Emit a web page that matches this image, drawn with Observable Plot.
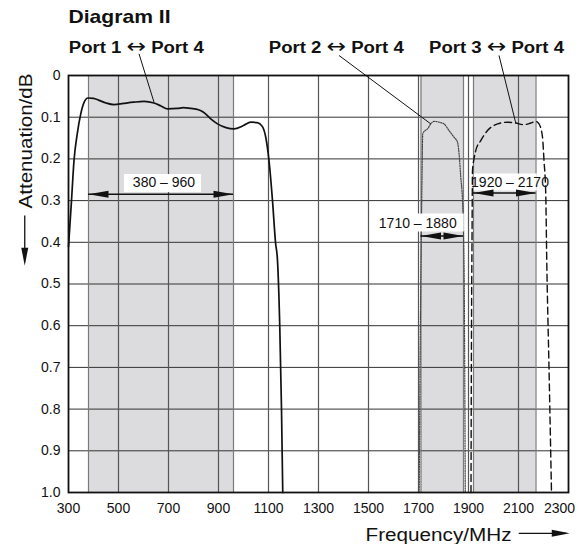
<!DOCTYPE html>
<html><head><meta charset="utf-8">
<script src="https://cdn.jsdelivr.net/npm/d3@7"></script>
<script src="https://cdn.jsdelivr.net/npm/@observablehq/plot@0.6"></script>
<style>html,body{margin:0;padding:0;background:#fff;}</style>
</head><body>
<script>
// ---------- data ----------
// Port 1 ↔ Port 4 (solid)
const port1Freq = [300, 312, 322, 335, 349, 362, 378, 400, 420, 450, 482, 520, 560, 602, 642, 670, 696, 736, 760, 789, 820, 840, 869, 896, 930, 962, 1000, 1029, 1055, 1075, 1089, 1102, 1116, 1128, 1136, 1145, 1152, 1157];
const port1Att  = [0.41, 0.30, 0.204, 0.14, 0.092, 0.065, 0.054, 0.055, 0.059, 0.066, 0.070, 0.067, 0.064, 0.062, 0.066, 0.073, 0.080, 0.079, 0.077, 0.079, 0.082, 0.088, 0.104, 0.116, 0.125, 0.128, 0.120, 0.112, 0.113, 0.122, 0.148, 0.204, 0.30, 0.40, 0.444, 0.60, 0.80, 1.0];
// Port 2 ↔ Port 4 (dotted)
const port2Freq = [1703, 1706, 1710, 1714, 1717, 1725, 1736, 1749, 1762, 1782, 1802, 1822, 1842, 1856, 1864, 1869, 1876, 1882, 1885, 1887];
const port2Att  = [1.0, 0.70, 0.45, 0.25, 0.14, 0.133, 0.128, 0.116, 0.110, 0.112, 0.116, 0.132, 0.148, 0.16, 0.20, 0.244, 0.30, 0.444, 0.70, 1.0];
// Port 3 ↔ Port 4 (dashed)
const port3Freq = [1910, 1912, 1914, 1916, 1922, 1929, 1949, 1976, 2016, 2056, 2089, 2122, 2149, 2169, 2182, 2196, 2202, 2209, 2213, 2222, 2232];
const port3Att  = [1.0, 0.60, 0.40, 0.228, 0.20, 0.18, 0.156, 0.132, 0.116, 0.112, 0.114, 0.118, 0.114, 0.110, 0.116, 0.148, 0.204, 0.284, 0.444, 0.70, 1.0];

const xTicks = [300, 500, 700, 900, 1100, 1300, 1500, 1700, 1900, 2100, 2300];
const yTicks = [0, 0.1, 0.2, 0.3, 0.4, 0.5, 0.6, 0.7, 0.8, 0.9, 1.0];

// pass bands
const bandLo = [380, 1710, 1920];
const bandHi = [960, 1880, 2170];
const bandLabels = ["380 – 960", "1710 – 1880", "1920 – 2170"];

const title = "Diagram II";
const portLabels = ["Port 1 ↔ Port 4", "Port 2 ↔ Port 4", "Port 3 ↔ Port 4"];
const xLabel = "Frequency/MHz";
const yLabel = "Attenuation/dB";

// ---------- annotation anchors (data units) ----------
const bandArrowAtt = [0.285, 0.385, 0.282];
const bandLabelFreq = [682, 1697, 2066];
const bandLabelAtt = [0.257, 0.354, 0.256];
const bandBoxFreq = [676, 1709, 2047];
const bandBoxAtt = [0.258, 0.3525, 0.2555];
const bandBoxW = [77, 86, 63];
const bandBoxH = [18, 18, 17];
const portLabelFreq = [301, 1101, 1742];
const leaderFrom = [[582, -0.052], [1382, -0.048], [2022, -0.048]];
const leaderTo = [[642, 0.064], [1749, 0.116], [2089, 0.114]];

// ---------- build ----------
const FONT = '"Liberation Sans", Arial, Helvetica, sans-serif';
const mk = (F, A) => F.map((f, i) => ({f, a: A[i]}));
const port1 = mk(port1Freq, port1Att);
const port2 = mk(port2Freq, port2Att);
const port3 = mk(port3Freq, port3Att);
const bands = bandLo.map((lo, i) => ({
  lo, hi: bandHi[i], label: bandLabels[i], ay: bandArrowAtt[i],
  lx: bandLabelFreq[i], ly: bandLabelAtt[i], bx: bandBoxFreq[i], by: bandBoxAtt[i],
  bw: bandBoxW[i], bh: bandBoxH[i]
}));
const leaders = leaderFrom.map((p, i) => ({x1: p[0], y1: p[1], x2: leaderTo[i][0], y2: leaderTo[i][1]}));

function head(L, W, angleDeg) {
  const t = angleDeg * Math.PI / 180, c = Math.cos(t), s = Math.sin(t);
  const r = (x, y) => [x * c - y * s, x * s + y * c];
  return {draw(ctx) {
    const p1 = r(-L, -W / 2), p2 = r(-L, W / 2);
    ctx.moveTo(0, 0); ctx.lineTo(p1[0], p1[1]); ctx.lineTo(p2[0], p2[1]); ctx.closePath();
  }};
}
function box(w, h) { return {draw(ctx) { ctx.rect(-w / 2, -h / 2, w, h); }}; }

const gridX = xTicks.slice(1, -1);
const gridY = yTicks.slice(1, -1);
const edges = bandLo.concat(bandHi);

const svg = Plot.plot({
  width: 585, height: 544,
  marginLeft: 68, marginRight: 17, marginTop: 75, marginBottom: 52,
  style: {fontFamily: FONT, fontSize: "14px", color: "#111", background: "#fff"},
  x: {domain: [300, 2300], label: null},
  y: {domain: [0, 1], reverse: true, label: null},
  marks: [
    Plot.rect(bands, {x1: "lo", x2: "hi", fill: "#dcdcde"}),
    Plot.ruleY(gridY, {stroke: "#333", strokeWidth: 1}),
    Plot.ruleX(gridX, {stroke: "#555", strokeWidth: 1.2}),
    Plot.ruleX(edges, {stroke: "#7a7a7a", strokeWidth: 1.2}),
    Plot.line(port1, {x: "f", y: "a", curve: "monotone-x", stroke: "#111", strokeWidth: 1.7}),
    Plot.line(port2, {x: "f", y: "a", curve: "monotone-x", stroke: "#444", strokeWidth: 1.2, strokeDasharray: "1.2,1.3"}),
    Plot.line(port3, {x: "f", y: "a", curve: "monotone-x", stroke: "#111", strokeWidth: 1.4, strokeDasharray: "7,4"}),
    Plot.link(leaders, {x1: "x1", y1: "y1", x2: "x2", y2: "y2", stroke: "#111", strokeWidth: 1}),
    ...bands.map(b => Plot.dot([b], {x: "bx", y: "by", symbol: box(b.bw, b.bh), fill: "white"})),
    Plot.ruleY(bands, {y: "ay", x1: "lo", x2: "hi", stroke: "#111", strokeWidth: 1.5}),
    Plot.dot(bands, {x: "lo", y: "ay", symbol: head(20, 7, 180), fill: "#111"}),
    Plot.dot(bands, {x: "hi", y: "ay", symbol: head(20, 7, 0), fill: "#111"}),
    Plot.text(bands, {x: "lx", y: "ly", text: "label", fontSize: 14, fill: "#111"}),
    Plot.frame({stroke: "#111", strokeWidth: 1.8}),
    Plot.axisX(xTicks.slice(0, -1), {tickSize: 0, tickPadding: 11, fontSize: 14, label: null, tickFormat: d => String(d)}),
    Plot.axisX(xTicks.slice(-1), {tickSize: 0, tickPadding: 11, fontSize: 14, dx: -9, label: null, tickFormat: d => String(d)}),
    Plot.axisY(yTicks, {tickSize: 0, tickPadding: 8, fontSize: 14, label: null, tickFormat: d => d === 0 ? "0" : d.toFixed(1)}),
    // titles
    Plot.text([title], {frameAnchor: "top-left", dy: -52.3, textAnchor: "start", lineAnchor: "bottom", fontWeight: "bold", fontSize: 19}),
    Plot.text(portLabels, {x: portLabelFreq, frameAnchor: "top", dy: -22.3, textAnchor: "start", lineAnchor: "bottom", fontWeight: "bold", fontSize: 16}),
    Plot.text([yLabel], {frameAnchor: "top-left", dx: -36.3, dy: 133, rotate: -90, textAnchor: "start", lineAnchor: "bottom", fontSize: 18}),
    Plot.text([xLabel], {frameAnchor: "bottom-left", dx: 297, dy: 48, textAnchor: "start", lineAnchor: "bottom", fontSize: 17.5}),
    // axis arrows
    Plot.link([{x1: 125, y1: 0.336, x2: 125, y2: 0.440}], {x1: "x1", y1: "y1", x2: "x2", y2: "y2", stroke: "#111", strokeWidth: 1.3}),
    Plot.dot([{x: 125, y: 0.456}], {x: "x", y: "y", symbol: head(18, 7, 90), fill: "#111"}),
    Plot.link([{x1: 2101, y1: 1.098, x2: 2290, y2: 1.098}], {x1: "x1", y1: "y1", x2: "x2", y2: "y2", stroke: "#111", strokeWidth: 1.3}),
    Plot.dot([{x: 2305, y: 1.098}], {x: "x", y: "y", symbol: head(18, 7, 0), fill: "#111"})
  ]
});
document.body.appendChild(svg);

// widen the bold / axis-title lettering to the reference's extents; thin, long ↔ glyph
const widths = {"Diagram II": 102, "Port 1 ↔ Port 4": 135, "Port 2 ↔ Port 4": 135, "Port 3 ↔ Port 4": 135, "Attenuation/dB": 135, "Frequency/MHz": 146};
const NS = "http://www.w3.org/2000/svg";
svg.querySelectorAll("text").forEach(t => {
  const txt = t.textContent;
  const w = widths[txt];
  if (!w) return;
  if (txt.includes("↔")) {
    const [a, b] = txt.split("↔");
    t.textContent = "";
    t.append(a);
    const ts = document.createElementNS(NS, "tspan");
    ts.setAttribute("font-family", "DejaVu Sans");
    ts.setAttribute("font-weight", "normal");
    ts.setAttribute("font-size", "20");
    ts.textContent = "↔";
    t.append(ts);
    t.append(b);
  }
  t.setAttribute("textLength", w);
  t.setAttribute("lengthAdjust", "spacingAndGlyphs");
});
</script>
</body></html>
